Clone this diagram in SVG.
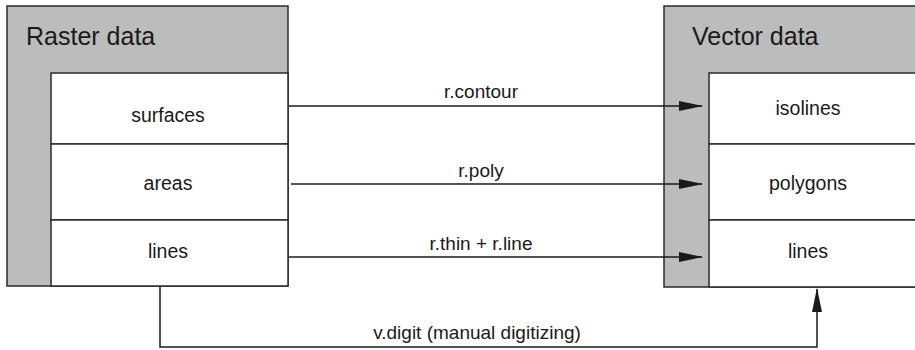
<svg xmlns="http://www.w3.org/2000/svg" width="915" height="350" viewBox="0 0 915 350">
  <style>
    .frame { fill: #bcbcbc; stroke: #2a2a2a; stroke-width: 1.5; }
    .cell { fill: #ffffff; stroke: #2a2a2a; stroke-width: 1.5; }
    .title { font-family: "Liberation Sans", Arial, sans-serif; font-size: 25px; fill: #1a1a1a; }
    .item { font-family: "Liberation Sans", Arial, sans-serif; font-size: 19.5px; fill: #1a1a1a; text-anchor: middle; }
    .label { font-family: "Liberation Sans", Arial, sans-serif; font-size: 19px; fill: #1a1a1a; text-anchor: middle; }
    .wire { fill: none; stroke: #1a1a1a; stroke-width: 1.5; }
  </style>
  <defs>
    <marker id="head" markerWidth="24" markerHeight="10" refX="23" refY="5" orient="auto" markerUnits="userSpaceOnUse">
      <path d="M0,0 L24,5 L0,10 z" fill="#1a1a1a"/>
    </marker>
  </defs>
  <rect width="915" height="350" fill="#ffffff"/>

  <!-- Raster data container -->
  <g id="raster">
    <rect class="frame" x="7" y="6" width="281" height="280"/>
    <text class="title" x="26" y="45">Raster data</text>
    <g id="raster-surfaces">
      <rect class="cell" x="51" y="73" width="237" height="71"/>
      <text class="item" x="168" y="122">surfaces</text>
    </g>
    <g id="raster-areas">
      <rect class="cell" x="51" y="144" width="237" height="76"/>
      <text class="item" x="168" y="190">areas</text>
    </g>
    <g id="raster-lines">
      <rect class="cell" x="51" y="220" width="237" height="66"/>
      <text class="item" x="168" y="258">lines</text>
    </g>
  </g>

  <!-- Vector data container (runs past the right edge) -->
  <g id="vector">
    <rect class="frame" x="664" y="6" width="270" height="281"/>
    <text class="title" x="692" y="45">Vector data</text>
    <g id="vector-isolines">
      <rect class="cell" x="709" y="73" width="225" height="71"/>
      <text class="item" x="808" y="115">isolines</text>
    </g>
    <g id="vector-polygons">
      <rect class="cell" x="709" y="144" width="225" height="76"/>
      <text class="item" x="808" y="190">polygons</text>
    </g>
    <g id="vector-lines">
      <rect class="cell" x="709" y="220" width="225" height="67"/>
      <text class="item" x="808" y="258">lines</text>
    </g>
  </g>

  <!-- Conversion commands -->
  <g id="connectors">
    <line class="wire" x1="289" y1="106" x2="702" y2="106" marker-end="url(#head)"/>
    <text class="label" x="481" y="98">r.contour</text>
    <line class="wire" x1="291" y1="184" x2="702" y2="184" marker-end="url(#head)"/>
    <text class="label" x="481" y="177">r.poly</text>
    <line class="wire" x1="289" y1="257" x2="702" y2="257" marker-end="url(#head)"/>
    <text class="label" x="481" y="250">r.thin + r.line</text>
    <polyline class="wire" points="160,287 160,347 817,347 817,289" marker-end="url(#head)"/>
    <text class="label" x="477" y="339">v.digit (manual digitizing)</text>
  </g>
</svg>
